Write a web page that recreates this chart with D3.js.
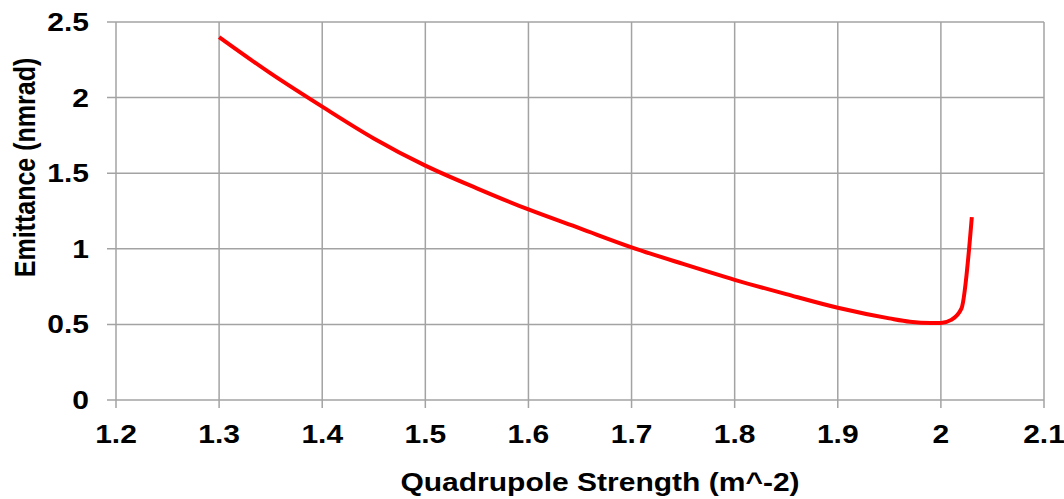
<!DOCTYPE html>
<html>
<head>
<meta charset="utf-8">
<script src="https://cdn.jsdelivr.net/npm/d3@7"></script>
<style>
  html, body { margin: 0; padding: 0; background: #fff; }
  svg { display: block; }
  text { font-family: "Liberation Sans", Arial, sans-serif; font-weight: bold; fill: #000; }
</style>
</head>
<body>
<svg id="chart" width="1064" height="499"></svg>
<script>
// ---- data ----
const strength = [1.30, 1.35, 1.40, 1.45, 1.50, 1.55, 1.60, 1.65, 1.70, 1.75, 1.80, 1.85, 1.90, 1.95, 1.97, 1.99, 2.00, 2.01, 2.02, 2.03];
const emittance = [2.40, 2.16, 1.94, 1.73, 1.55, 1.40, 1.26, 1.135, 1.01, 0.90, 0.795, 0.70, 0.61, 0.54, 0.518, 0.51, 0.51, 0.53, 0.606, 1.21];
const xTicks = [1.2, 1.3, 1.4, 1.5, 1.6, 1.7, 1.8, 1.9, 2, 2.1];
const yTicks = [0, 0.5, 1, 1.5, 2, 2.5];
const xTitle = "Quadrupole Strength (m^-2)";
const yTitle = "Emittance (nmrad)";

// ---- layout ----
const svg = d3.select("#chart");
const mLeft = 116, mRight = 1044, mTop = 22, mBottom = 400;
const stretch = 1.2;
const gridColor = "#a3a3a3";

const x = d3.scaleLinear().domain([1.2, 2.1]).range([mLeft, mRight]);
const y = d3.scaleLinear().domain([0, 2.5]).range([mBottom, mTop]);

// horizontal gridlines (with left tick stubs)
svg.append("g").selectAll("line").data(yTicks).join("line")
  .attr("x1", mLeft - 9).attr("x2", mRight)
  .attr("y1", d => y(d)).attr("y2", d => y(d))
  .attr("stroke", gridColor).attr("stroke-width", 1.5);

// vertical gridlines (with bottom tick stubs)
svg.append("g").selectAll("line").data(xTicks).join("line")
  .attr("x1", d => x(d)).attr("x2", d => x(d))
  .attr("y1", mTop).attr("y2", mBottom + 8)
  .attr("stroke", gridColor).attr("stroke-width", 1.5);

// y tick labels
svg.append("g").selectAll("g").data(yTicks).join("g")
  .attr("transform", d => `translate(89,${y(d)}) scale(${stretch},1)`)
  .append("text")
  .attr("text-anchor", "end").attr("dy", "0.36em")
  .attr("font-size", 25)
  .text(d => d3.format("")(d));

// x tick labels
svg.append("g").selectAll("g").data(xTicks).join("g")
  .attr("transform", d => `translate(${x(d)},443) scale(${stretch},1)`)
  .append("text")
  .attr("text-anchor", "middle")
  .attr("font-size", 25)
  .text(d => d3.format("")(d));

// axis titles
svg.append("g").attr("transform", `translate(600,491) scale(${stretch},1)`)
  .append("text").attr("text-anchor", "middle").attr("font-size", 25).text(xTitle);

svg.append("g").attr("transform", `translate(35,167.5) rotate(-90) scale(1,${stretch})`)
  .append("text").attr("text-anchor", "middle").attr("font-size", 25).text(yTitle);

// curve
const pts = strength.map((s, i) => [s, emittance[i]]);
const line = d3.line().x(d => x(d[0])).y(d => y(d[1])).curve(d3.curveMonotoneX);
svg.append("path").datum(pts)
  .attr("d", line)
  .attr("fill", "none")
  .attr("stroke", "#ff0000")
  .attr("stroke-width", 4)
  .attr("stroke-linejoin", "round");
</script>
</body>
</html>
